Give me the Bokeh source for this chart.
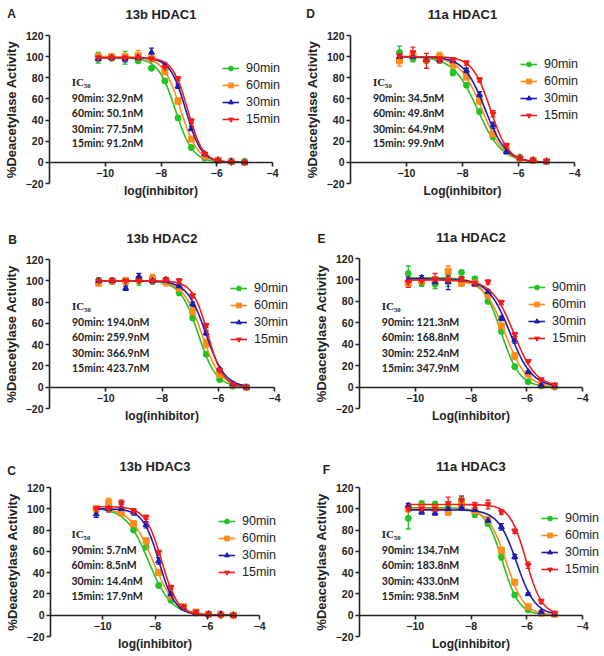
import numpy as np
from bokeh.plotting import figure
from bokeh.models import (ColumnDataSource, FixedTicker, Label, Legend, LegendItem,
                          Range1d, TeeHead, Whisker)
from bokeh.layouts import column, row
from bokeh.embed import file_html
from bokeh.resources import INLINE

FONT = "Liberation Sans"

# ---------------- data ----------------
log_conc = [-10.25, -9.77, -9.29, -8.82, -8.34, -7.86, -7.39, -6.91, -6.43, -5.95, -5.48, -5.00]
times = ["90min", "60min", "30min", "15min"]
x_ticks = [-10, -8, -6, -4]
y_ticks = [-20, 0, 20, 40, 60, 80, 100, 120]

# A: 13b HDAC1
A_90 = [99, 99, 99, 96, 89, 77, 42, 14, 4, 2, 1, 1]
A_60 = [100, 100, 100, 101, 98, 86, 58, 22, 6, 2, 1, 0]
A_30 = [98, 99, 98, 99, 104, 92, 72, 32, 8, 2, 1, 0]
A_15 = [99, 99, 99, 99, 98, 90, 79, 39, 8, 2, 0, 0]
A_90_err = [5, 3, 6, 2, 2, 2, 2, 2, 1, 1, 1, 1]
A_60_err = [3, 2, 2, 5, 3, 3, 3, 2, 1, 1, 1, 1]
A_30_err = [2, 2, 3, 2, 4, 2, 2, 2, 1, 1, 1, 1]
A_15_err = [2, 2, 2, 2, 2, 2, 2, 2, 1, 1, 1, 1]
A_ic50 = [32.9, 50.1, 77.5, 91.2]
A_hill = [1.4, 1.4, 1.55, 1.6]
A_top = [99, 100, 99, 99]

# D: 11a HDAC1
D_90 = [104, 98, 97, 98, 85, 73, 48, 24, 12, 5, 2, 1]
D_60 = [96, 101, 97, 100, 92, 81, 58, 27, 12, 4, 2, 1]
D_30 = [100, 100, 97, 97, 96, 87, 64, 35, 10, 4, 2, 1]
D_15 = [101, 104, 96, 97, 97, 94, 78, 46, 16, 4, 2, 1]
D_90_err = [6, 3, 3, 3, 3, 2, 2, 2, 2, 1, 1, 1]
D_60_err = [5, 3, 3, 4, 2, 3, 3, 2, 1, 1, 1, 1]
D_30_err = [2, 2, 2, 2, 2, 2, 3, 3, 2, 1, 1, 1]
D_15_err = [3, 5, 7, 3, 2, 2, 2, 3, 2, 1, 1, 1]
D_ic50 = [34.5, 49.8, 64.9, 99.9]
D_hill = [1.0, 1.1, 1.15, 1.35]
D_top = [100, 100, 100, 100]

# B: 13b HDAC2
B_90 = [100, 100, 100, 100, 101, 100, 89, 65, 31, 7, 1, 0]
B_60 = [98, 100, 100, 101, 102, 99, 93, 71, 41, 12, 2, 0]
B_30 = [100, 100, 93, 104, 100, 101, 95, 78, 51, 17, 3, 0]
B_15 = [100, 100, 100, 100, 100, 101, 100, 86, 58, 16, 3, 0]
B_90_err = [3, 3, 3, 4, 4, 3, 3, 2, 2, 1, 1, 1]
B_60_err = [3, 2, 3, 3, 4, 4, 3, 4, 4, 2, 1, 1]
B_30_err = [2, 2, 2, 3, 2, 2, 2, 2, 2, 1, 1, 1]
B_15_err = [2, 2, 2, 2, 2, 2, 2, 2, 2, 1, 1, 1]
B_ic50 = [194.0, 259.9, 366.9, 423.7]
B_hill = [1.35, 1.3, 1.3, 1.6]
B_top = [100, 100, 100, 100]

# E: 11a HDAC2
E_90 = [106, 97, 96, 99, 107, 101, 80, 52, 19, 5, 1, 0]
E_60 = [97, 99, 100, 108, 97, 97, 86, 57, 29, 12, 2, 1]
E_30 = [100, 102, 98, 98, 100, 96, 89, 64, 44, 14, 2, 1]
E_15 = [98, 99, 101, 100, 101, 97, 98, 79, 49, 24, 7, 2]
E_90_err = [7, 3, 4, 5, 2, 2, 2, 2, 2, 1, 1, 1]
E_60_err = [3, 3, 3, 5, 3, 2, 2, 2, 3, 1, 1, 1]
E_30_err = [2, 2, 2, 7, 2, 2, 2, 2, 3, 1, 1, 1]
E_15_err = [5, 3, 5, 3, 2, 2, 2, 2, 2, 1, 1, 1]
E_ic50 = [121.3, 168.8, 252.4, 347.9]
E_hill = [1.3, 1.15, 1.1, 1.1]
E_top = [102, 100, 101, 100]

# C: 13b HDAC3
C_90 = [100, 102, 99, 80, 64, 28, 14, 7, 2, 1, 0, 0]
C_60 = [100, 106, 96, 86, 70, 40, 18, 8, 3, 1, 1, 0]
C_30 = [95, 100, 100, 97, 85, 51, 20, 7, 2, 1, 1, 0]
C_15 = [100, 100, 105, 98, 92, 59, 26, 8, 3, 1, 0, 0]
C_90_err = [3, 4, 2, 2, 2, 2, 1, 1, 1, 1, 1, 1]
C_60_err = [3, 4, 2, 2, 2, 2, 2, 1, 1, 1, 1, 1]
C_30_err = [3, 2, 4, 3, 3, 3, 2, 1, 1, 1, 1, 1]
C_15_err = [2, 3, 3, 2, 2, 2, 2, 1, 1, 1, 1, 1]
C_ic50 = [5.7, 8.5, 14.4, 17.9]
C_hill = [1.0, 1.0, 1.4, 1.4]
C_top = [101, 101, 100, 102]

# F: 11a HDAC3
F_90 = [91, 105, 104, 101, 107, 95, 86, 55, 19, 5, 2, 1]
F_60 = [100, 102, 100, 97, 104, 98, 90, 61, 31, 8, 2, 1]
F_30 = [103, 97, 96, 100, 101, 99, 89, 83, 55, 20, 3, 1]
F_15 = [100, 100, 100, 105, 108, 103, 104, 97, 79, 47, 13, 2]
F_90_err = [10, 2, 3, 2, 4, 3, 2, 3, 2, 1, 1, 1]
F_60_err = [3, 2, 2, 3, 2, 2, 2, 2, 2, 1, 1, 1]
F_30_err = [2, 2, 2, 2, 2, 2, 2, 3, 2, 1, 1, 1]
F_15_err = [2, 2, 2, 6, 4, 3, 4, 2, 2, 3, 2, 1]
F_ic50 = [134.7, 183.8, 433.0, 938.5]
F_hill = [1.45, 1.35, 1.3, 1.5]
F_top = [101, 100, 99, 104]

# ---------------- styles ----------------
COLORS = ["#22c322", "#ff8c1a", "#1c1cb0", "#f21c1c"]
MARKERS = ["circle", "square", "triangle", "inverted_triangle"]
X_LO, X_HI, Y_LO, Y_HI = -12, -4, -20, 120
INK = "#222222"


def make_panel(letter, title, xlabel, series, errs, ic50, hill, top, g):
    w, h, L, R, T, B = g["w"], g["h"], g["l"], g["r"], g["t"], g["b"]
    FW, FH = w - L - R, h - T - B
    sx = (X_HI - X_LO) / FW
    sy = (Y_HI - Y_LO) / FH
    p = figure(width=w, height=h,
               x_range=Range1d(X_LO - L * sx, X_HI + R * sx),
               y_range=Range1d(Y_LO - B * sy, Y_HI + T * sy),
               output_backend="svg", toolbar_location=None, min_border=0)
    p.outline_line_color = None
    p.grid.visible = False
    p.background_fill_color = "white"

    for ax in (p.xaxis, p.yaxis):
        ax.axis_line_width = 1.6
        ax.major_tick_line_width = 1.6
        ax.major_tick_out = 4
        ax.major_tick_in = 0
        ax.minor_tick_line_color = None
        ax.major_label_text_font = FONT
        ax.major_label_text_font_style = "bold"
        ax.major_label_text_font_size = "10.5px"
        ax.major_label_text_color = INK
        ax.axis_label_text_font = FONT
        ax.axis_label_text_font_style = "bold"
        ax.axis_label_text_color = INK
        ax.axis_line_color = INK
        ax.major_tick_line_color = INK
    p.xaxis.ticker = FixedTicker(ticks=x_ticks)
    p.yaxis.ticker = FixedTicker(ticks=y_ticks)
    p.xaxis.fixed_location = 0
    p.xaxis.bounds = (X_LO, X_HI)
    p.yaxis.fixed_location = X_LO
    p.yaxis.bounds = (Y_LO, Y_HI)
    p.xaxis.axis_label = xlabel
    p.xaxis.axis_label_text_font_size = "12px"
    p.xaxis.major_label_standoff = 3
    p.xaxis.axis_label_standoff = 3
    p.yaxis.axis_label = "%Deacetylase Activity"
    p.yaxis.axis_label_text_font_size = "13px"
    p.yaxis.major_label_standoff = 2
    p.yaxis.axis_label_standoff = 4

    xc = np.linspace(log_conc[0], log_conc[-1], 240)
    items = []
    for i, name in enumerate(times):
        c = COLORS[i]
        yv = np.array(series[i], dtype=float)
        ev = np.array(errs[i], dtype=float)
        src = ColumnDataSource(dict(x=log_conc, y=yv, upper=yv + ev, lower=yv - ev))
        yc = top[i] / (1.0 + 10 ** ((xc - np.log10(ic50[i] * 1e-9)) * hill[i]))
        lr = p.line(xc, yc, color=c, line_width=1.6)
        p.add_layout(Whisker(base="x", upper="upper", lower="lower", source=src,
                             line_color=c, line_width=1.3,
                             upper_head=TeeHead(size=5, line_color=c, line_width=1.3),
                             lower_head=TeeHead(size=5, line_color=c, line_width=1.3)))
        sr = p.scatter("x", "y", source=src, marker=MARKERS[i], size=6, color=c)
        items.append(LegendItem(label=name, renderers=[lr, sr]))

    lx, ly = g["leg"]
    leg = Legend(items=items, location=(L + lx, B + ly), padding=0, margin=0, spacing=0,
                 label_height=17, glyph_height=12, glyph_width=17, label_standoff=7,
                 border_line_color=None, background_fill_alpha=0,
                 label_text_font=FONT, label_text_font_size="12.5px",
                 label_text_color=INK)
    p.add_layout(leg)

    p.add_layout(Label(x=L + FW / 2, y=B + FH + 21, x_units="screen", y_units="screen",
                       text=title, text_align="center", text_baseline="middle",
                       text_font=FONT, text_font_style="bold", text_font_size="13px",
                       text_color=INK))
    p.add_layout(Label(x=L + g["ldx"], y=B + FH + g["ldy"], x_units="screen", y_units="screen",
                       text=letter, text_align="center", text_baseline="middle",
                       text_font=FONT, text_font_style="bold", text_font_size="12px",
                       text_color=INK))

    lines = ["IC₅₀"] + [f"{times[i]}: {ic50[i]:.1f}nM" for i in range(4)]
    ys = [76, 61, 47, 32, 18]
    for k, txt in enumerate(lines):
        p.add_layout(Label(x=-11.2, y=ys[k], text=txt, text_align="left",
                           text_baseline="middle",
                           text_font="Liberation Serif" if k == 0 else "Lato",
                           text_font_style="bold",
                           text_font_size="11px" if k == 0 else "10.5px",
                           text_color=INK))
    return p


# page geometry (frame edges measured from each figure's own top-left corner)
gA = dict(w=300, h=219, l=49, r=28, t=35, b=36, leg=(173, 56), ldx=-38, ldy=22)
gD = dict(w=304, h=219, l=50, r=30, t=35, b=36, leg=(170, 60), ldx=-40, ldy=22)
gB = dict(w=300, h=225, l=49, r=26, t=40, b=36, leg=(181, 61), ldx=-37, ldy=20)
gE = dict(w=304, h=225, l=59, r=22, t=39, b=36, leg=(169, 62), ldx=-38, ldy=20)
gC = dict(w=300, h=212, l=50, r=41, t=43, b=20, leg=(168, 56), ldx=-39, ldy=17)
gF = dict(w=304, h=212, l=59, r=22, t=43, b=20, leg=(182, 59), ldx=-33, ldy=18)

pA = make_panel("A", "13b HDAC1", "log(inhibitor)", [A_90, A_60, A_30, A_15],
                [A_90_err, A_60_err, A_30_err, A_15_err], A_ic50, A_hill, A_top, gA)
pD = make_panel("D", "11a HDAC1", "Log(inhibitor)", [D_90, D_60, D_30, D_15],
                [D_90_err, D_60_err, D_30_err, D_15_err], D_ic50, D_hill, D_top, gD)
pB = make_panel("B", "13b HDAC2", "log(inhibitor)", [B_90, B_60, B_30, B_15],
                [B_90_err, B_60_err, B_30_err, B_15_err], B_ic50, B_hill, B_top, gB)
pE = make_panel("E", "11a HDAC2", "Log(inhibitor)", [E_90, E_60, E_30, E_15],
                [E_90_err, E_60_err, E_30_err, E_15_err], E_ic50, E_hill, E_top, gE)
pC = make_panel("C", "13b HDAC3", "log(inhibitor)", [C_90, C_60, C_30, C_15],
                [C_90_err, C_60_err, C_30_err, C_15_err], C_ic50, C_hill, C_top, gC)
pF = make_panel("F", "11a HDAC3", "Log(inhibitor)", [F_90, F_60, F_30, F_15],
                [F_90_err, F_60_err, F_30_err, F_15_err], F_ic50, F_hill, F_top, gF)

layout = column(row(pA, pD, spacing=0), row(pB, pE, spacing=0), row(pC, pF, spacing=0),
                spacing=0)

open("out.html", "w").write(file_html(layout, INLINE))
